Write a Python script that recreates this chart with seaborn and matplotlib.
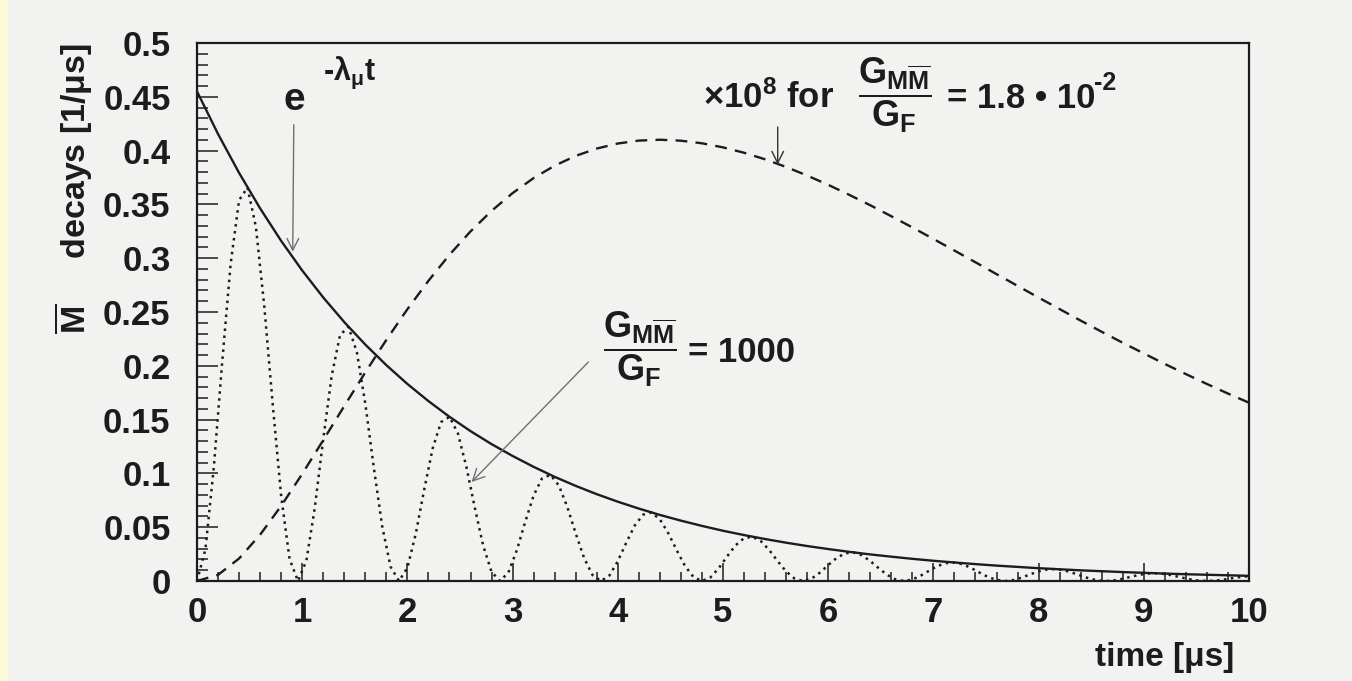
import numpy as np
import pandas as pd
import matplotlib
matplotlib.use("Agg")
import matplotlib.pyplot as plt
from matplotlib.ticker import MultipleLocator, FixedLocator
from matplotlib.patches import Rectangle
import seaborn as sns

# ---------------------------------------------------------------- data
# time grid of the smooth curves (step 0.2 us) and of the oscillation (step 0.08 us)
t_coarse = np.round(np.linspace(0.0, 10.0, 51), 2)
t_fine = np.round(np.linspace(0.0, 10.0, 126), 2)

# muon decay envelope  e^{-lambda_mu t}
decay = [
    0.4550, 0.4154, 0.3793, 0.3463, 0.3161,
    0.2886, 0.2635, 0.2406, 0.2197, 0.2006,
    0.1831, 0.1672, 0.1526, 0.1393, 0.1272,
    0.1162, 0.1061, 0.0968, 0.0884, 0.0807,
    0.0737, 0.0673, 0.0614, 0.0561, 0.0512,
    0.0467, 0.0427, 0.0390, 0.0356, 0.0325,
    0.0297, 0.0271, 0.0247, 0.0226, 0.0206,
    0.0188, 0.0172, 0.0157, 0.0143, 0.0131,
    0.0119, 0.0109, 0.0099, 0.0091, 0.0083,
    0.0076, 0.0069, 0.0063, 0.0058, 0.0053,
    0.0048,
]

# anti-muonium decays, G_MMbar/G_F = 1.8e-2, scaled by 1e8
weak = [
    0.0000, 0.0057, 0.0209, 0.0430, 0.0698,
    0.0995, 0.1309, 0.1626, 0.1939, 0.2241,
    0.2526, 0.2790, 0.3032, 0.3249, 0.3440,
    0.3605, 0.3745, 0.3860, 0.3951, 0.4019,
    0.4066, 0.4093, 0.4101, 0.4092, 0.4068,
    0.4030, 0.3980, 0.3919, 0.3848, 0.3768,
    0.3682, 0.3589, 0.3492, 0.3390, 0.3286,
    0.3179, 0.3071, 0.2962, 0.2852, 0.2743,
    0.2634, 0.2527, 0.2420, 0.2316, 0.2214,
    0.2115, 0.2017, 0.1923, 0.1831, 0.1742,
    0.1657,
]

# anti-muonium decays, G_MMbar/G_F = 1000 (oscillating)
strong = [
    0.0000, 0.0294, 0.1058, 0.2040, 0.2950, 0.3539, 0.3657, 0.3290, 0.2550, 0.1639, 0.0790, 0.0204,
    0.0000, 0.0190, 0.0683, 0.1318, 0.1906, 0.2286, 0.2362, 0.2125, 0.1647, 0.1059, 0.0511, 0.0132,
    0.0000, 0.0123, 0.0441, 0.0851, 0.1231, 0.1477, 0.1526, 0.1373, 0.1064, 0.0684, 0.0330, 0.0085,
    0.0000, 0.0079, 0.0285, 0.0550, 0.0795, 0.0954, 0.0986, 0.0887, 0.0688, 0.0442, 0.0213, 0.0055,
    0.0000, 0.0051, 0.0184, 0.0355, 0.0514, 0.0616, 0.0637, 0.0573, 0.0444, 0.0286, 0.0138, 0.0036,
    0.0000, 0.0033, 0.0119, 0.0230, 0.0332, 0.0398, 0.0411, 0.0370, 0.0287, 0.0184, 0.0089, 0.0023,
    0.0000, 0.0021, 0.0077, 0.0148, 0.0214, 0.0257, 0.0266, 0.0239, 0.0185, 0.0119, 0.0057, 0.0015,
    0.0000, 0.0014, 0.0050, 0.0096, 0.0139, 0.0166, 0.0172, 0.0155, 0.0120, 0.0077, 0.0037, 0.0010,
    0.0000, 0.0009, 0.0032, 0.0062, 0.0090, 0.0107, 0.0111, 0.0100, 0.0077, 0.0050, 0.0024, 0.0006,
    0.0000, 0.0006, 0.0021, 0.0040, 0.0058, 0.0069, 0.0072, 0.0065, 0.0050, 0.0032, 0.0016, 0.0004,
    0.0000, 0.0004, 0.0013, 0.0026, 0.0037, 0.0045,
]

x_ticks = [0, 1, 2, 3, 4, 5, 6, 7, 8, 9, 10]
x_tick_labels = ["0", "1", "2", "3", "4", "5", "6", "7", "8", "9", "10"]
y_ticks = [0, 0.05, 0.1, 0.15, 0.2, 0.25, 0.3, 0.35, 0.4, 0.45, 0.5]
y_tick_labels = ["0", "0.05", "0.1", "0.15", "0.2", "0.25", "0.3",
                 "0.35", "0.4", "0.45", "0.5"]

# ---------------------------------------------------------------- style
sns.set_style("ticks")
BG = "#f2f2f0"
INK = "#1c1c1c"
plt.rcParams["font.family"] = ["Liberation Sans", "DejaVu Sans"]
plt.rcParams["font.weight"] = "bold"
plt.rcParams["mathtext.fontset"] = "custom"
plt.rcParams["mathtext.rm"] = "Liberation Sans:bold"
plt.rcParams["mathtext.it"] = "Liberation Sans:bold"
plt.rcParams["mathtext.bf"] = "Liberation Sans:bold"
plt.rcParams["mathtext.sf"] = "Liberation Sans:bold"

W, H = 1352, 681
fig = plt.figure(figsize=(W / 100, H / 100), dpi=100, facecolor=BG)
fig.patches.append(Rectangle((0, 0), 8 / W, 1, transform=fig.transFigure,
                             facecolor="#fbfad8", edgecolor="none", zorder=-1))

ax = fig.add_axes([197 / W, 100 / H, (1249 - 197) / W, (581 - 43) / H])
ax.set_facecolor(BG)

df_coarse = pd.DataFrame({"t": t_coarse, "decay": decay, "weak": weak})
df_fine = pd.DataFrame({"t": t_fine, "strong": strong})

sns.lineplot(data=df_coarse, x="t", y="decay", ax=ax, color=INK,
             linewidth=1.7, errorbar=None)
sns.lineplot(data=df_coarse, x="t", y="weak", ax=ax, color=INK,
             linewidth=1.7, linestyle=(0, (5, 3.5)), errorbar=None)
sns.lineplot(data=df_fine, x="t", y="strong", ax=ax, color=INK,
             linewidth=1.8, linestyle=(0, (1, 1.8)), errorbar=None)

ax.set_xlim(0, 10)
ax.set_ylim(0, 0.5)
ax.set_xlabel("")
ax.set_ylabel("")

ax.xaxis.set_major_locator(FixedLocator(x_ticks))
ax.set_xticklabels(x_tick_labels)
ax.yaxis.set_major_locator(FixedLocator(y_ticks))
ax.set_yticklabels(y_tick_labels)
ax.xaxis.set_minor_locator(MultipleLocator(0.2))
ax.yaxis.set_minor_locator(MultipleLocator(0.01))

ax.tick_params(axis="x", which="major", direction="in", length=13, width=1.1,
               pad=11, labelsize=25, colors=INK)
ax.tick_params(axis="x", which="minor", direction="in", length=6.5, width=1.1,
               colors=INK)
ax.tick_params(axis="y", which="major", direction="in", length=15, width=1.1,
               pad=19, labelsize=25, colors=INK)
ax.tick_params(axis="y", which="minor", direction="in", length=8, width=1.1,
               colors=INK)
for s in ax.spines.values():
    s.set_visible(True)
    s.set_color(INK)
    s.set_linewidth(1.6)

# axis titles
fig.text(74 / W, 1 - 43 / H, r"$\overline{M}$     decays [1/μs]", rotation=90,
         ha="center", va="top", fontsize=24.5, fontweight="bold", color=INK)
fig.text(1234 / W, 1 - 666 / H, "time [μs]", ha="right", va="baseline",
         fontsize=24, fontweight="bold", color=INK)

arrow_head = "->,head_length=0.6,head_width=0.3"
ratio = r"$\dfrac{G_{M\overline{M}}}{G_{F}}$"

# exponential envelope label
ax.text(0.82, 0.438, "e", fontsize=28, ha="left", va="baseline", color=INK)
ax.text(1.20, 0.4656, r"-$\lambda_{\mu}$t", fontsize=22, ha="left",
        va="baseline", color=INK)
ax.annotate("", xy=(0.91, 0.306), xytext=(0.92, 0.424),
            arrowprops=dict(arrowstyle=arrow_head, color="#707070", lw=1.0,
                            mutation_scale=14, shrinkA=0, shrinkB=0))

# weak-coupling label
base_w = 0.4396
ax.text(4.81, base_w, r"×10$^{8}$ for", fontsize=25, ha="left",
        va="baseline", color=INK)
ax.text(6.63, base_w, ratio, fontsize=26, ha="center", va="baseline",
        color=INK)
ax.text(7.13, base_w, "= 1.8 • 10", fontsize=25, ha="left", va="baseline",
        color=INK)
ax.text(8.53, base_w + 0.0165, "-2", fontsize=18, ha="left", va="baseline",
        color=INK)
ax.annotate("", xy=(5.52, 0.387), xytext=(5.52, 0.422),
            arrowprops=dict(arrowstyle=arrow_head, color="#333333", lw=1.0,
                            mutation_scale=14, shrinkA=0, shrinkB=0))

# strong-coupling label
base_s = 0.2035
ax.text(4.211, base_s, ratio, fontsize=26, ha="center", va="baseline",
        color=INK)
ax.text(4.667, base_s, "= 1000", fontsize=25, ha="left", va="baseline",
        color=INK)
ax.annotate("", xy=(2.61, 0.092), xytext=(3.72, 0.2035),
            arrowprops=dict(arrowstyle=arrow_head, color="#707070", lw=1.0,
                            mutation_scale=14, shrinkA=0, shrinkB=0))

fig.savefig("out.png", dpi=100, facecolor=BG)
